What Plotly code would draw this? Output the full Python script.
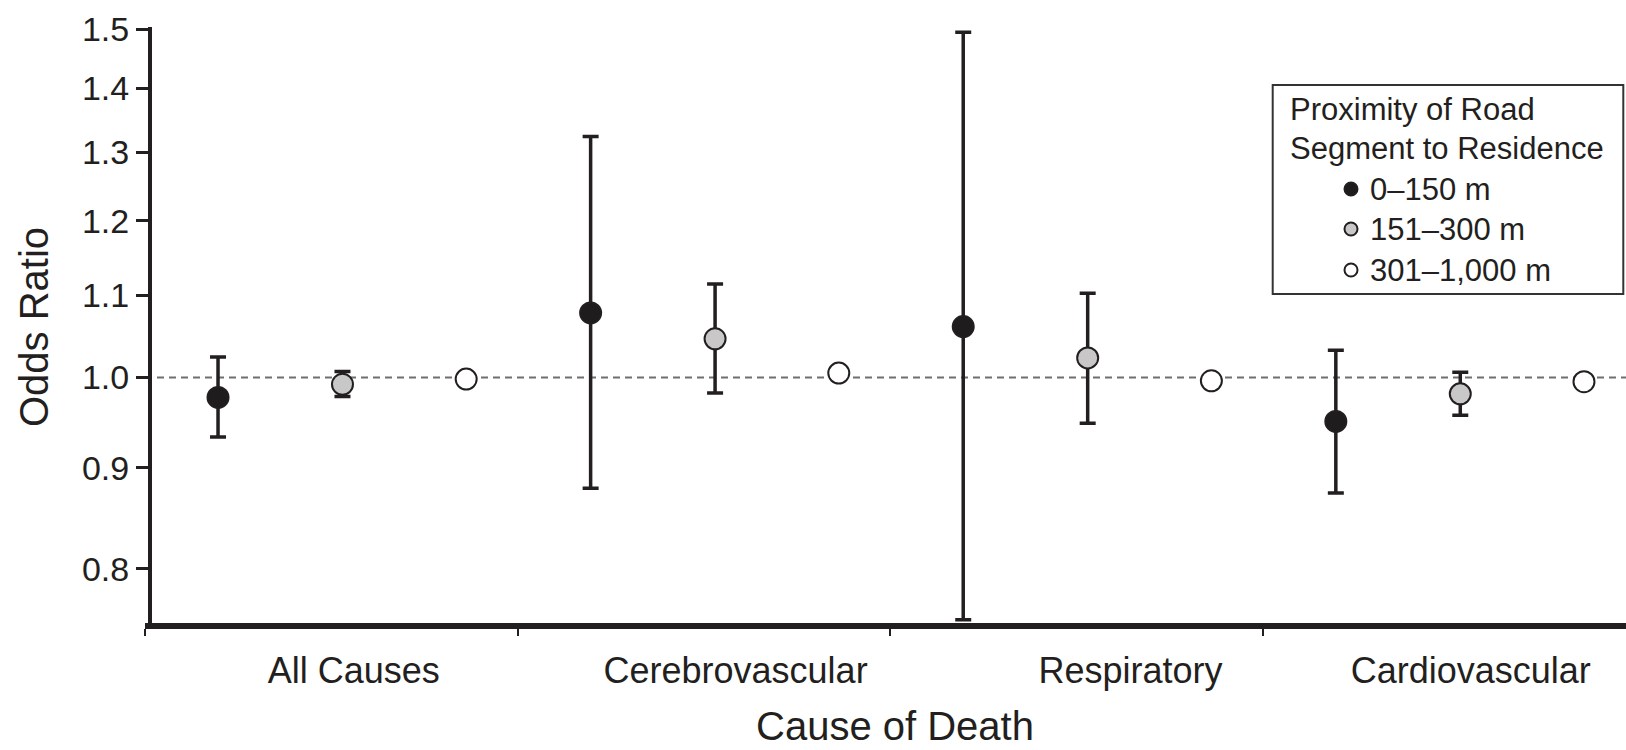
import math
import plotly.graph_objects as go

# ---- data -------------------------------------------------------------
causes = ["All Causes", "Cerebrovascular", "Respiratory", "Cardiovascular"]
bands = ["0\u2013150 m", "151\u2013300 m", "301\u20131,000 m"]

or_near = [0.977, 1.078, 1.061, 0.950]
lo_near = [0.933, 0.879, 0.754, 0.874]
hi_near = [1.024, 1.324, 1.495, 1.032]

or_mid = [0.992, 1.046, 1.023, 0.981]
lo_mid = [0.978, 0.982, 0.948, 0.957]
hi_mid = [1.007, 1.115, 1.103, 1.006]

or_far = [0.998, 1.005, 0.996, 0.995]

y_ticks = [0.8, 0.9, 1.0, 1.1, 1.2, 1.3, 1.4, 1.5]
y_ticktext = ["0.8", "0.9", "1.0", "1.1", "1.2", "1.3", "1.4", "1.5"]

# ---- layout constants ---------------------------------------------------
W, H = 1626, 750
ML, MR, MT, MB = 145, 0, 27, 124
PW, PH = W - ML - MR, H - MT - MB
INK = "#231f20"
FONT = "Liberation Sans, Arial, Helvetica, sans-serif"

offsets = [0.196, 0.530, 0.862]          # slot of each distance band inside a cause
label_pos = [0.56, 1.585, 2.645, 3.558]  # centre of each cause label
x_range = [0, PW / 372.6]


def px(xp):
    return (xp - ML) / PW


def py(yp):
    return (MT + PH - yp) / PH


def err(vals, lo, hi):
    return dict(type="data", symmetric=False,
                array=[h - v for v, h in zip(vals, hi)],
                arrayminus=[v - l for v, l in zip(vals, lo)],
                color=INK, thickness=3.5, width=8)


fig = go.Figure()

series = [
    (or_near, err(or_near, lo_near, hi_near), "#1e1c1d", INK),
    (or_mid, err(or_mid, lo_mid, hi_mid), "#c8c8c8", INK),
    (or_far, None, "#ffffff", INK),
]
for j, (vals, e, fill, edge) in enumerate(series):
    fig.add_trace(go.Scatter(
        x=[i + offsets[j] for i in range(len(causes))],
        y=vals,
        mode="markers",
        name=bands[j],
        showlegend=False,
        error_y=e if e else dict(visible=False),
        marker=dict(size=21, color=fill, line=dict(color=edge, width=2)),
    ))

# reference line at OR = 1
fig.add_shape(type="line", xref="paper", yref="y", x0=0, x1=1, y0=1.0, y1=1.0,
              line=dict(color="#6f6f6f", width=2, dash="7px,5px"), layer="below")

# legend box
fig.add_shape(type="rect", xref="paper", yref="paper",
              x0=px(1272.7), x1=px(1623.3), y0=py(294), y1=py(85),
              line=dict(color="#333333", width=2), fillcolor="white")

ann = []
ann.append(dict(text="Proximity of Road", x=px(1289), y=py(109)))
ann.append(dict(text="Segment to Residence", x=px(1289), y=py(148)))
legend_y = [189, 229, 270]
for j, b in enumerate(bands):
    ann.append(dict(text=b, x=px(1369), y=py(legend_y[j])))
    fill = series[j][2]
    fig.add_shape(type="circle", xref="paper", yref="paper",
                  xsizemode="pixel", ysizemode="pixel",
                  xanchor=px(1351), yanchor=py(legend_y[j]),
                  x0=-6.5, x1=6.5, y0=-6.5, y1=6.5,
                  fillcolor=fill, line=dict(color=INK, width=2))
for a in ann:
    fig.add_annotation(xref="paper", yref="paper", xanchor="left", yanchor="middle",
                       showarrow=False, font=dict(size=31, color=INK, family=FONT),
                       borderpad=0, **a)

# axis titles
fig.add_annotation(text="Odds Ratio", xref="paper", yref="paper",
                   x=px(34), y=py(327), textangle=-90, showarrow=False,
                   xanchor="center", yanchor="middle",
                   font=dict(size=40, color=INK, family=FONT))
fig.add_annotation(text="Cause of Death", xref="paper", yref="paper",
                   x=px(894.5), y=py(749), showarrow=False,
                   xanchor="center", yanchor="bottom", borderpad=0,
                   font=dict(size=40, color=INK, family=FONT))

fig.update_layout(
    width=W, height=H, autosize=False,
    margin=dict(l=ML, r=MR, t=MT, b=MB),
    paper_bgcolor="white", plot_bgcolor="white",
    font=dict(family=FONT, color=INK),
    showlegend=False,
    xaxis=dict(
        range=x_range, anchor="free", position=0,
        showline=True, linewidth=6, linecolor=INK,
        tickmode="array", tickvals=label_pos, ticktext=causes,
        ticks="", ticklabelstandoff=11,
        tickfont=dict(size=36, color=INK, family=FONT),
        minor=dict(tickmode="array", tickvals=[0, 1, 2, 3], ticks="outside",
                   ticklen=7, tickwidth=2, tickcolor=INK, showgrid=False),
        showgrid=False, zeroline=False,
    ),
    yaxis=dict(
        type="log", range=[math.log10(0.7486), math.log10(1.504)],
        anchor="free", position=px(150),
        showline=True, linewidth=4, linecolor=INK,
        tickmode="array", tickvals=y_ticks, ticktext=y_ticktext,
        ticks="outside", ticklen=12, tickwidth=3, tickcolor=INK,
        tickfont=dict(size=34, color=INK, family=FONT),
        showgrid=False, zeroline=False,
    ),
)

fig.write_html("out.html")
